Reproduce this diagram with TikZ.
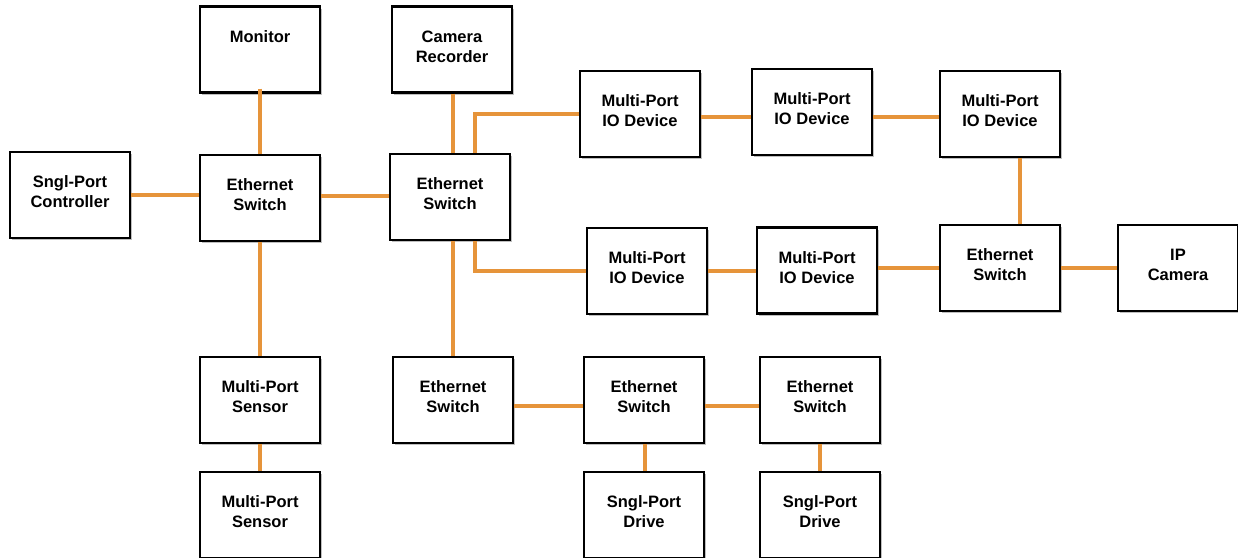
\documentclass[tikz,border=0pt]{standalone}
\usepackage{fontspec}
\setmainfont{Liberation Sans}
\usetikzlibrary{shadows}
\definecolor{wire}{RGB}{230,148,58}
\tikzset{
  box/.style={draw=black, line width=2.2pt, fill=white, minimum width=120pt, minimum height=86pt,
    inner sep=0pt, align=center, text depth=6pt, font=\fontsize{16.5}{20}\selectfont\bfseries,
    drop shadow={shadow xshift=1.5pt, shadow yshift=-2pt, fill=black!50, opacity=0.5}},
  link/.style={draw=wire, line width=3.6pt}
}
\begin{document}
\begin{tikzpicture}[x=1pt,y=-1pt]
\useasboundingbox (0,0) rectangle (1238,557);
\clip (0,0) rectangle (1238,557);
% top row
\node[box] (mon) at (260,49.5) {Monitor\\\phantom{Monitor}};
\node[box] (cam) at (452,49.5) {Camera\\Recorder};
% second row
\node[box] (ctl) at (70,195) {Sngl-Port\\Controller};
\node[box] (es1) at (260,198) {Ethernet\\Switch};
\node[box] (es2) at (450,197) {Ethernet\\Switch};
\node[box] (io1) at (640,114) {Multi-Port\\IO Device};
\node[box] (io2) at (812,112) {Multi-Port\\IO Device};
\node[box] (io3) at (1000,114) {Multi-Port\\IO Device};
% third row
\node[box] (es3) at (1000,268) {Ethernet\\Switch};
\node[box] (ipc) at (1178,268) {IP\\Camera};
\node[box] (io4) at (647,271) {Multi-Port\\IO Device};
\node[box] (io5) at (817,270.5) {Multi-Port\\IO Device};
% fourth row
\node[box] (sn1) at (260,400) {Multi-Port\\Sensor};
\node[box] (es4) at (453,400) {Ethernet\\Switch};
\node[box] (es5) at (644,400) {Ethernet\\Switch};
\node[box] (es6) at (820,400) {Ethernet\\Switch};
% fifth row
\node[box] (sn2) at (260,515) {Multi-Port\\Sensor};
\node[box] (dr1) at (644,515) {Sngl-Port\\Drive};
\node[box] (dr2) at (820,515) {Sngl-Port\\Drive};
% connectors
\path[link] (ctl.east |- 0,195) -- (es1.west |- 0,195);
\path[link] (es1.east |- 0,196) -- (es2.west |- 0,196);
\path[link] ([yshift=5pt]mon.south) -- (es1.north);
\path[link] (cam.south -| 453,0) -- (es2.north -| 453,0);
\path[link] (es2.north -| 475,0) |- (io1.west);
\path[link] (io1.east |- 0,117) -- (io2.west |- 0,117);
\path[link] (io2.east |- 0,117) -- (io3.west |- 0,117);
\path[link] (io3.south -| 1020,0) -- (es3.north -| 1020,0);
\path[link] (es3) -- (ipc);
\path[link] (es2.south -| 475,0) |- (io4.west);
\path[link] (io4.east |- 0,271) -- (io5.west |- 0,271);
\path[link] (io5.east |- 0,268) -- (es3.west |- 0,268);
\path[link] (es2.south -| 453,0) -- (es4.north -| 453,0);
\path[link] (es1) -- (sn1);
\path[link] (sn1) -- (sn2);
\path[link] (es4.east |- 0,406) -- (es5.west |- 0,406);
\path[link] (es5.east |- 0,406) -- (es6.west |- 0,406);
\path[link] (es5.south -| 645,0) -- (dr1.north -| 645,0);
\path[link] (es6) -- (dr2);
\end{tikzpicture}
\end{document}
